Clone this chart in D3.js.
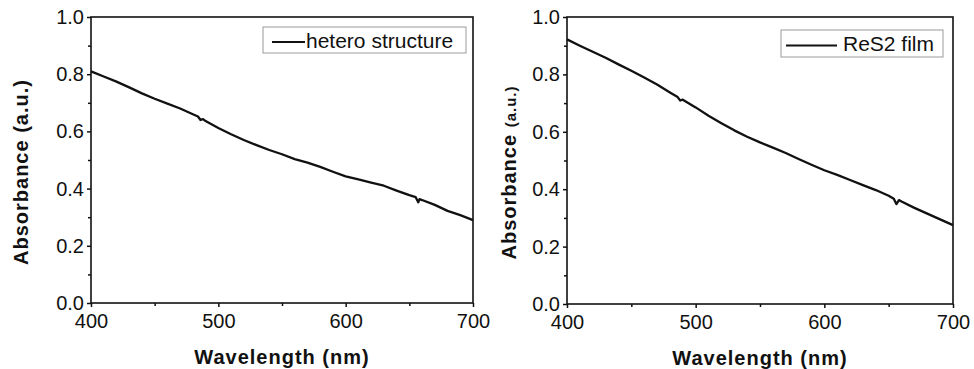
<!DOCTYPE html>
<html lang="en">
<head>
    <meta charset="UTF-8">
    <title>Absorbance spectra</title>
    <script src="https://d3js.org/d3.v7.min.js"></script>
    <style>
        body {
            margin: 0;
            padding: 0;
            background: #fff;
        }

        svg text {
            font-family: "Liberation Sans", Arial, sans-serif;
            fill: #111;
        }

        .tick text {
            font-size: 20px;
        }

        .axis-title {
            font-size: 20px;
            font-weight: bold;
            letter-spacing: 1px;
        }

        .legend-text {
            font-size: 21px;
        }
    </style>
</head>
<body>
    <svg id="chart" width="974" height="369"></svg>

    <script>
        // wavelength (nm) / absorbance
        const heteroWavelength = [400, 410, 420, 430, 440, 450, 460, 470, 480, 484, 486, 488, 490, 500, 510, 520, 530, 540, 550,
            560, 570, 580, 590, 600, 610, 620, 630, 640, 650, 655, 657, 658, 660, 670, 680, 690, 700];
        const heteroAbs = [0.810, 0.792, 0.774, 0.754, 0.733, 0.714, 0.697, 0.680, 0.660, 0.652, 0.640, 0.643, 0.636, 0.612,
            0.590, 0.570, 0.552, 0.535, 0.520, 0.503, 0.491, 0.476, 0.459, 0.443, 0.432, 0.421, 0.410, 0.393, 0.377, 0.370,
            0.352, 0.363, 0.360, 0.343, 0.322, 0.307, 0.290];

        const res2Wavelength = [400, 410, 420, 430, 440, 450, 460, 470, 480, 486, 488, 490, 500, 510, 520, 530, 540, 550, 560,
            570, 580, 590, 600, 610, 620, 630, 640, 650, 654, 656, 658, 660, 670, 680, 690, 700];
        const res2Abs = [0.922, 0.900, 0.879, 0.858, 0.835, 0.813, 0.789, 0.765, 0.737, 0.721, 0.709, 0.712, 0.685, 0.656,
            0.630, 0.605, 0.583, 0.563, 0.545, 0.526, 0.505, 0.485, 0.466, 0.450, 0.432, 0.414, 0.397, 0.377, 0.367, 0.348,
            0.362, 0.357, 0.335, 0.315, 0.295, 0.275];

        const xMajor = [400, 500, 600, 700];
        const xMinor = [450, 550, 650];
        const yMajor = [0.0, 0.2, 0.4, 0.6, 0.8, 1.0];
        const yMinor = [0.1, 0.3, 0.5, 0.7, 0.9];

        const svg = d3.select("#chart");

        function drawPanel(p) {
            const x = d3.scaleLinear().domain([400, 700]).range([p.left, p.right]);
            const y = d3.scaleLinear().domain([0, 1]).range([p.bottom, p.top]);
            const g = svg.append("g");

            // minor ticks
            g.append("g")
                .attr("transform", `translate(0,${p.bottom})`)
                .call(d3.axisBottom(x).tickValues(xMinor).tickSize(3).tickFormat(""));
            g.append("g")
                .attr("transform", `translate(${p.left},0)`)
                .call(d3.axisLeft(y).tickValues(yMinor).tickSize(3).tickFormat(""));

            // major ticks + labels
            g.append("g")
                .attr("transform", `translate(0,${p.bottom})`)
                .call(d3.axisBottom(x).tickValues(xMajor).tickSize(4).tickPadding(7).tickFormat(d3.format("d")));
            g.append("g")
                .attr("transform", `translate(${p.left},0)`)
                .call(d3.axisLeft(y).tickValues(yMajor).tickSize(4).tickPadding(3).tickFormat(d3.format(".1f")));

            g.selectAll(".domain").remove();
            g.selectAll(".tick line").attr("stroke", "#111").attr("stroke-width", 1.5);

            // frame
            g.append("rect")
                .attr("x", p.left)
                .attr("y", p.top)
                .attr("width", p.right - p.left)
                .attr("height", p.bottom - p.top)
                .attr("fill", "none")
                .attr("stroke", "#111")
                .attr("stroke-width", 1.6);

            const pts = p.wl.map((w, i) => [w, p.abs[i]]);
            g.append("path")
                .datum(pts)
                .attr("fill", "none")
                .attr("stroke", "#111")
                .attr("stroke-width", 2.3)
                .attr("stroke-linejoin", "round")
                .attr("d", d3.line().x(d => x(d[0])).y(d => y(d[1])));

            // legend
            const lg = p.legend;
            g.append("rect")
                .attr("x", lg.x)
                .attr("y", lg.y)
                .attr("width", lg.w)
                .attr("height", lg.h)
                .attr("fill", "#fff")
                .attr("stroke", "#9a9a9a")
                .attr("stroke-width", 1);
            g.append("line")
                .attr("x1", lg.lineX1)
                .attr("x2", lg.lineX2)
                .attr("y1", lg.y + lg.h / 2 + 2)
                .attr("y2", lg.y + lg.h / 2 + 2)
                .attr("stroke", "#111")
                .attr("stroke-width", 2);
            g.append("text")
                .attr("class", "legend-text")
                .attr("x", lg.lineX2 + lg.gap)
                .attr("y", lg.y + 21)
                .text(p.label);

            // axis titles
            g.append("text")
                .attr("class", "axis-title")
                .attr("x", (p.left + p.right) / 2)
                .attr("y", p.bottom + 61)
                .attr("text-anchor", "middle")
                .text("Wavelength (nm)");

            const yt = g.append("text")
                .attr("class", "axis-title")
                .attr("text-anchor", "middle")
                .attr("transform", `translate(${p.yTitleX},${(p.top + p.bottom) / 2 + 12}) rotate(-90)`);
            yt.append("tspan").text("Absorbance ");
            yt.append("tspan").style("font-size", p.unitSize).text("(a.u.)");
        }

        drawPanel({
            left: 91, right: 473, top: 17, bottom: 303,
            wl: heteroWavelength, abs: heteroAbs,
            label: "hetero structure",
            legend: { x: 263, y: 27, w: 203, h: 26, lineX1: 272, lineX2: 305, gap: 1 },
            yTitleX: 28, unitSize: "20px"
        });

        drawPanel({
            left: 567, right: 953, top: 17, bottom: 304,
            wl: res2Wavelength, abs: res2Abs,
            label: "ReS2 film",
            legend: { x: 781, y: 30, w: 162, h: 27, lineX1: 786, lineX2: 837, gap: 6 },
            yTitleX: 516, unitSize: "15px"
        });
    </script>
</body>
</html>
